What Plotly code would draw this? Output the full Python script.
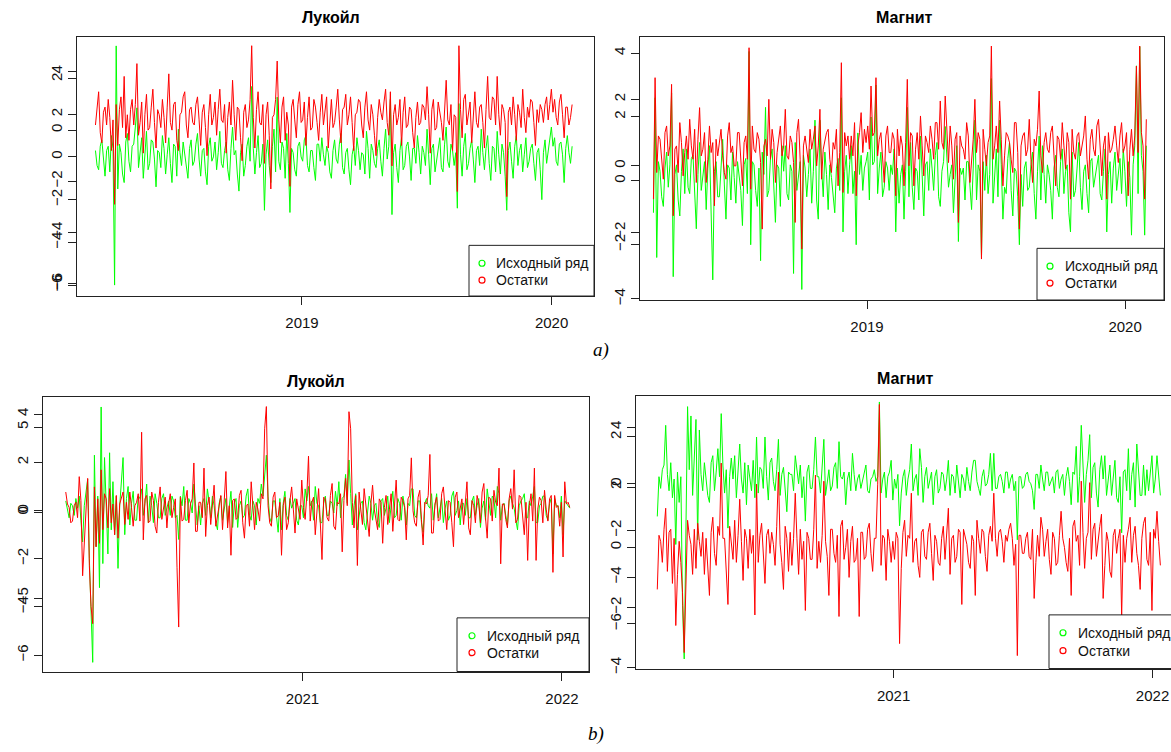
import pandas as pd
import plotly.graph_objects as go

# ---------------- data ----------------
A_START, A_END = "2018-03-05", "2020-01-31"
B_START, B_END = "2020-02-03", "2022-01-12"

titles = ["Лукойл", "Магнит", "Лукойл", "Магнит"]
legend_labels = ["Исходный ряд", "Остатки"]
a_tickvals = ["2019-01-01", "2020-01-01"]
a_ticktext = ["2019", "2020"]
b_tickvals = ["2021-01-01", "2022-01-01"]
b_ticktext = ["2021", "2022"]

# Лукойл, 2018-2020 : original series (green) and residuals (red)
luk_a_orig = [
    0.3, -0.4, -0.6, 0.5, 0.8, -0.2, -0.9, 0.3, 0.5, -0.7, 1.0, 0.4, -6.0, 5.2, -1.5, 0.6, 0.2, -0.8, -1.2, 0.7,
    1.1, -0.2, -0.7, 0.5, 0.6, 1.4, 2.3, -0.5, 0.4, 0.9, -1.0, 0.2, 1.2, -0.6, -0.3, 0.8, 0.7, -0.1, -1.4, 0.3,
    0.2, -0.5, 1.0, 0.4, -0.8, 0.1, 0.9, -0.3, -1.2, 0.6, 0.5, -0.9, 1.3, 0.2, -0.4, 0.7, 0.1, -0.6, -1.0, 0.4,
    0.8, -0.4, -0.2, 0.6, 1.1, -0.1, -0.9, 0.3, 0.4, -0.7, -1.3, 0.5, 0.9, -0.2, 0.0, 0.7, -0.6, 0.2, 1.2, -0.3,
    -0.5, 0.3, 0.7, -0.6, -1.1, 0.4, 1.4, 0.1, 0.3, -0.8, -1.6, 0.2, 0.6, -0.9, -0.4, 0.5, 0.9, -0.2, 3.3, 0.4,
    -0.8, 0.2, 1.0, -0.5, -0.3, 0.6, -2.5, 0.1, 0.8, -0.4, -1.2, 0.5, 1.3, -0.7, 2.8, -0.2, -0.6, 0.7, 0.4, -1.0,
    1.1, -0.3, -2.6, 0.4, 0.2, -0.6, -0.9, 0.5, 0.7, 0.0, -0.2, 0.8, 1.0, -0.4, -0.7, 0.3, 0.3, -0.5, -1.1, 0.6,
    0.6, -0.2, 0.9, 0.1, -0.4, 0.5, 0.2, -0.7, -1.0, 0.3, 0.8, -0.1, -0.3, 0.6, 1.1, -0.5, -0.8, 0.2, 0.4, -0.6,
    -1.3, 0.1, 0.5, -0.4, 0.9, 0.3, -0.6, 0.2, 0.1, -0.8, 1.2, 0.4, -1.0, 0.6, 0.3, -0.3, -0.5, 0.4, 0.8, -0.2,
    -0.9, 0.4, 1.3, -0.1, 0.5, 2.7, -2.7, 0.2, 0.6, -0.5, -1.2, 0.3, 0.9, -0.6, -0.4, 0.5, 0.7, 0.0, -1.1, 0.4,
    0.4, -0.3, 1.0, 0.2, -0.8, 0.5, 0.2, -0.4, 1.3, 0.1, -1.3, 0.4, 0.6, -0.7, -0.2, 0.3, 0.9, -0.5, -0.7, 0.6,
    1.4, -0.2, -0.5, 0.6, 0.3, -0.4, 0.2, -2.4, 2.5, 0.1, -0.9, 0.5, 1.1, -0.6, -0.3, 0.4, 0.8, -0.1, -1.2, 0.3,
    0.5, -0.4, 1.3, 0.2, -0.6, 0.4, 1.0, -0.3, -1.1, 0.5, 0.4, -0.7, 1.2, 0.1, -0.8, 0.6, 0.2, -0.9, -2.5, 0.3,
    0.7, -0.2, -1.0, 0.5, 1.0, -0.4, 0.3, 0.6, -0.7, 0.1, 0.9, -0.5, -0.2, 0.4, 0.6, -0.3, -1.1, 0.2, 0.4, -0.6,
    -2.0, 0.2, 0.8, -0.3, 0.3, 0.7, 1.4, 0.5, 0.9, -0.2, -0.4, 0.6, 0.7, 0.1, -1.2, 0.4, 1.0, 0.2, -0.3, 0.5,
]
luk_a_resid = [
    0.2, 0.9, 1.5, -0.1, -0.5, 0.7, 0.9, 0.2, 1.2, 0.5, -0.8, 0.4, -2.9, 1.0, -0.6, 0.8, 1.3, 0.1, 2.1, -0.3,
    0.6, -0.4, 0.8, 1.2, 0.2, 1.0, 2.6, -0.2, 0.3, 1.1, -0.9, 0.6, 1.4, 0.0, 0.1, 0.9, 1.6, 0.3, -0.7, 0.8,
    0.6, 0.1, 1.2, 0.5, -0.5, 0.9, 2.2, 0.3, 0.0, 1.0, 1.1, -0.4, -0.8, 0.6, 0.7, 1.3, 1.5, 0.2, -0.3, 0.8,
    0.9, 0.3, 0.2, 1.0, 1.3, 0.4, -0.6, 0.7, 1.0, 0.1, -1.0, 0.6, 1.4, 0.2, 0.5, 1.1, -0.2, 0.8, 1.6, 0.4,
    0.3, 1.0, -0.9, 0.5, 1.1, 0.2, 1.95, 0.6, -0.4, 0.9, 0.8, -0.3, -1.2, 0.7, 1.0, 0.1, 0.4, 1.2, 3.3, 0.5,
    -0.7, 0.8, 1.5, 0.3, 0.2, 1.0, -1.3, 0.6, 1.1, -0.2, -2.3, 0.5, 0.6, 1.2, 2.7, 0.4, -0.5, 0.9, 1.3, -0.4,
    0.7, 0.2, -2.2, 0.9, 1.2, 0.4, -0.3, 1.0, 1.5, 0.3, 0.4, 1.1, -0.6, 0.5, 1.3, 0.0, 0.1, 1.2, 0.9, 0.3,
    -0.4, 0.7, 1.4, 0.2, 0.8, 1.3, -0.7, 0.5, 1.2, 0.1, 0.3, 0.9, 1.6, 0.4, -0.5, 0.8, 0.9, 1.4, 0.2, 0.6,
    1.3, 0.3, -0.8, 0.6, 0.7, 1.2, 1.1, 0.2, -0.3, 0.9, 1.5, 0.4, 0.0, 1.0, 0.6, -0.2, -1.0, 0.5, 1.2, 0.7,
    0.4, 1.1, 1.6, 0.3, -0.2, 1.5, -1.4, 0.6, 1.0, 0.2, 0.5, 1.2, -0.6, 0.7, 1.3, 0.1, 0.2, 0.9, 0.8, -0.1,
    -0.7, 0.5, 1.1, 0.2, 0.3, 1.0, 0.9, 0.4, 1.7, 0.6, -0.9, 0.8, 1.2, 0.0, 0.1, 1.1, 0.7, 0.3, -0.4, 0.9,
    1.95, 0.4, 0.2, 1.0, -0.8, 0.6, 0.5, -2.4, 3.3, 0.8, -0.3, 1.2, 1.4, 0.2, 0.6, 1.1, -0.5, 0.7, 1.5, 0.3,
    0.1, 0.9, 1.0, 0.3, -0.7, 0.8, 2.1, 0.5, 0.4, 1.3, 1.2, 0.2, 2.1, 0.6, -0.2, 1.0, 0.8, 0.3, -2.6, 0.7,
    0.9, 0.2, 1.3, 0.6, -0.4, 1.0, 0.7, 0.1, 1.6, 0.5, -0.1, 0.9, 0.5, 1.2, 1.1, 0.3, -0.6, 0.8, 0.3, 1.0,
    0.8, 0.3, 1.0, 1.3, 0.4, 1.0, 1.6, 0.7, 1.2, 0.5, 0.2, 1.1, 1.4, 0.6, -0.3, 0.9, 0.9, 0.2, 0.5, 1.0,
]

# Магнит, 2018-2020
mag_a_orig = [
    -1.0, 2.6, -2.4, 0.6, 0.3, -0.5, -0.8, 0.4, 0.9, -0.2, 0.5, 2.75, -3.0, 0.2, 0.5, -0.6, -1.1, 0.3, 1.0, -0.4,
    1.0, -0.2, -0.4, 0.7, 0.8, -0.6, -1.5, 0.2, 1.2, -0.3, 0.1, 0.6, -0.9, 0.4, 1.1, -0.7, -3.1, 0.3, 0.6, -0.5,
    -0.5, 0.4, 1.3, -0.1, -1.2, 0.5, 0.4, -0.6, 0.9, 0.1, -0.7, 0.6, 0.2, -0.3, -1.4, 0.5, 0.7, -0.4, 4.05, -2.0,
    0.6, 0.5, -0.3, -0.8, 0.4, -2.5, 0.9, 0.2, 2.3, -0.5, -0.3, 0.7, 1.0, -0.2, -1.3, 0.5, 0.4, -0.8, 1.1, 0.3,
    1.1, -0.4, -0.6, 0.5, 0.3, -2.9, 1.2, -0.3, 0.2, 0.6, -3.4, 0.8, 0.4, -0.5, 0.2, 1.0, -0.7, 0.3, 1.9, -0.6,
    -1.2, 1.9, 0.4, -0.5, 0.9, 0.2, -0.9, 0.5, 0.1, -0.6, -1.0, 0.4, 0.7, -0.3, 2.6, -1.6, 0.3, 0.8, -0.4, 0.5,
    1.1, -0.4, 0.3, -2.0, 1.5, 0.2, 0.8, -0.3, 0.4, 0.6, 0.9, -0.6, 2.0, 0.5, 0.6, 3.0, -0.4, 0.4, 0.9, -0.5,
    -0.2, 0.6, 0.4, -0.3, 0.5, 0.2, 1.0, -1.6, 0.4, -0.7, 0.2, 0.5, -1.2, 0.3, 2.3, -0.5, 1.2, -0.2, -0.9, 0.4,
    0.3, -0.6, 1.4, 0.2, -1.1, 0.5, 0.6, -0.3, 1.0, 0.4, -0.3, 0.8, 1.2, -0.5, -0.8, 0.3, 0.6, 1.7, 0.7, -0.2,
    0.2, 0.5, -1.0, 0.3, 1.1, -1.9, 0.4, 0.2, 0.4, -0.6, 0.6, 0.6, -0.3, -0.9, 0.4, 1.9, -0.6, 0.5, 0.3, -2.4,
    0.6, -0.3, 0.8, -0.4, 0.2, 3.2, -0.7, 0.2, 1.0, -0.5, 1.9, 0.5, -1.2, -0.2, -0.4, 0.7, 1.2, -0.3, -1.1, 0.4,
    0.3, -0.5, -2.0, 0.2, -0.8, 0.4, 0.6, -0.3, -0.2, 0.5, 0.9, -0.4, -1.2, 0.3, 1.4, -0.6, 1.1, 0.2, -0.7, 0.5,
    0.2, -0.3, -1.2, 0.4, 0.8, -0.2, -0.5, 0.6, 1.0, -0.4, 0.3, 0.5, -1.0, -1.6, 0.9, -0.5, -0.3, 0.4, 1.2, -0.2,
    -0.9, 0.3, 0.5, -0.4, -1.0, 0.6, 0.7, -0.2, 0.1, 0.5, 0.8, -0.4, -0.6, 0.3, 1.0, -1.6, 0.2, 0.6, -0.7, 0.4,
    0.9, -0.3, 0.2, 0.7, -0.4, 1.0, 0.3, -0.8, 0.6, 0.1, -1.7, 0.5, 1.1, 3.6, -0.4, 4.2, 0.8, 0.3, -1.7, 1.1,
]
mag_a_resid = [
    -1.0, 2.65, -0.2, 0.9, 0.8, 0.1, -0.4, 1.0, 1.2, 0.3, 0.6, 2.45, -1.5, 0.5, 0.6, -0.2, 1.3, 0.7, -0.3, 0.4,
    0.9, 0.2, 1.4, 0.6, 0.2, 1.1, -0.5, 0.8, 1.75, 0.3, 0.5, 1.0, -0.5, 0.2, 1.2, 0.4, 0.7, -1.2, 0.8, 0.3,
    0.7, 1.1, 0.3, -0.2, -0.4, 0.9, 1.3, 0.4, 0.6, 0.0, 0.0, 1.0, 1.0, 0.3, -0.6, 0.7, 0.9, 0.2, 3.55, -0.7,
    1.2, 0.5, 0.4, 1.0, 0.8, 0.1, -1.9, 0.6, 0.8, 0.3, 2.0, 0.2, 1.1, 0.7, -0.5, 0.4, 0.9, 1.2, 0.3, 0.6,
    1.7, 0.3, 0.2, 0.9, 0.7, 0.1, -1.7, 1.0, 1.4, 0.2, -2.5, 0.6, 0.9, 0.4, 0.1, 1.1, 0.5, 0.8, 1.2, 0.0,
    0.6, 1.7, -0.4, 0.5, 0.8, 1.0, 1.1, 0.2, -0.2, 0.7, 0.5, 1.1, -0.6, 0.4, 3.1, -0.8, 1.0, 0.6, 0.9, 0.2,
    0.9, 0.3, 1.3, -0.9, 0.6, 1.0, 1.6, 0.4, 1.1, 0.7, 1.2, 0.5, 2.4, 0.9, 1.0, 2.65, 0.3, 0.8, 1.0, 0.2,
    -0.5, 0.9, 1.2, 0.4, 0.4, 1.0, 0.8, -0.9, 1.1, 0.3, 0.9, 0.6, -0.6, 0.7, 2.6, 0.0, 1.0, 0.9, -0.6, 0.5,
    1.0, 0.2, 1.5, 0.6, -0.3, 0.9, 0.7, 0.4, 1.2, 0.8, 0.2, 1.3, 1.3, 0.5, 1.95, 0.7, 0.5, 2.1, 0.9, 0.1,
    1.2, 0.6, -0.4, 0.8, 1.0, -1.7, 0.9, 0.6, 0.5, 0.2, 1.3, 0.9, -0.5, 0.3, 0.8, 2.0, 0.4, 1.0, 0.8, -2.8,
    1.1, 0.5, 0.0, 0.7, 0.9, 3.6, 0.2, 0.6, 1.2, 0.4, 1.95, 0.8, -0.6, 0.3, 1.0, 0.9, 0.7, 0.2, -0.2, 1.3,
    1.3, 0.4, -1.9, 0.6, 0.9, 1.0, 0.3, 0.5, 1.4, 0.2, -0.5, 0.8, 0.6, 1.1, 2.25, 0.3, -0.2, 0.7, 1.0, 0.5,
    0.4, 1.0, 1.2, 0.3, -0.6, 0.9, 0.8, 0.2, 1.3, 0.6, -0.1, 1.0, 0.7, -1.0, 1.1, 0.4, 0.2, 0.9, 1.0, 0.3,
    0.6, 0.9, 1.5, 0.2, -0.4, 0.8, 1.1, 0.5, 0.3, 1.2, 1.4, 0.4, -0.3, 0.6, 0.9, -1.0, 1.0, 0.4, 0.5, 0.8,
    1.2, 0.6, 0.1, 0.9, 1.3, 0.4, 0.6, 1.0, -0.9, 0.5, 1.1, 0.3, 0.9, 3.0, 0.4, 3.6, 1.0, 0.6, -1.0, 1.4,
]

# Лукойл, 2020-2022
luk_b_orig = [
    0.4, 0.1, -0.3, 0.3, 0.2, -0.2, 0.5, 0.1, 0.6, -0.4, -1.3, 0.2, 0.8, 1.3, -2.0, -4.0, -6.3, 2.3, -1.5, 0.6,
    -3.2, 4.3, -2.2, 2.2, 0.3, -1.8, 2.4, -0.8, 1.2, -1.0, 0.6, -2.4, 0.2, 1.4, 2.2, -1.0, 0.5, 1.0, -0.6, 0.3,
    0.8, -0.4, -0.4, 0.6, 0.5, 0.9, -0.2, 0.3, 1.1, -0.5, 0.6, 0.2, -0.5, 0.7, 0.3, -0.3, -0.3, 0.5, 0.7, -0.2,
    0.1, 0.4, -0.2, 0.6, 0.4, -0.3, -0.2, -1.2, 0.6, 0.2, 1.0, -0.4, -0.4, 0.5, 0.3, -0.1, 1.1, 0.4, -0.6, 0.2,
    -0.6, 0.3, 0.5, -0.2, 0.9, 0.4, -0.3, 0.6, 0.2, -0.5, -0.8, 0.3, 0.6, -0.4, 0.1, 0.5, -0.5, 0.2, 0.8, -0.7,
    0.3, 0.5, -0.7, 0.2, 0.4, -0.3, -0.2, 0.6, 0.9, -0.2, -0.4, 0.4, 0.2, -0.6, 0.5, 0.3, 1.1, 0.6, 1.4, 2.3,
    0.6, -0.3, -0.5, 0.4, 0.4, -0.2, -0.9, 0.5, -0.8, 0.3, 0.8, -0.2, -0.4, 0.5, 0.1, 0.3, 0.5, -0.4, -0.6, 0.2,
    0.2, -0.3, 0.9, 0.4, 1.0, 0.2, 0.4, -0.4, 1.0, 0.3, 0.2, -0.5, -0.5, 0.3, 0.6, -0.2, -0.2, 0.4, 0.3, -0.1,
    0.8, 0.2, 1.2, -0.3, 0.5, 0.6, 1.5, 0.3, 2.1, 0.7, -0.6, 0.2, 0.7, -0.8, -0.3, 0.3, 0.4, -0.5, -0.8, 0.1,
    0.6, 0.3, -0.4, 0.2, 0.3, -0.5, -0.7, 0.4, 0.5, -0.2, 0.1, 0.6, -0.5, 0.2, 0.8, -0.3, -0.2, 0.5, 0.3, -0.4,
    0.6, 0.2, -0.6, 0.3, 0.2, 0.9, 0.9, -0.2, -0.3, 0.4, 0.4, -0.5, -0.9, 0.3, 0.5, 0.2, 0.1, 0.7, -0.4, 0.2,
    0.7, -0.3, 0.2, 0.5, -0.5, 0.1, 0.4, -0.4, -0.2, 0.6, 0.8, -0.2, 0.0, 0.4, -0.6, 0.3, 0.3, -0.2, 0.5, -0.3,
    -0.3, 0.4, 0.6, -0.2, 0.2, 0.5, -0.7, 0.1, 0.4, -0.4, 0.9, 0.3, -0.2, 0.6, 0.5, -0.3, 1.0, 0.7, -0.4, 0.2,
    0.3, -0.2, -0.6, 0.4, 0.6, 0.3, 0.1, -0.4, -0.8, 0.2, 0.4, 0.5, 0.7, -0.3, -0.3, 0.4, 0.2, 0.6, 1.0, -0.5,
    -0.5, 0.2, 0.3, 0.6, 0.6, -0.2, -0.4, 0.3, 0.5, -1.8, 0.5, 0.2, 0.2, -0.3, 0.6, -1.0, 0.4, 0.3, 0.2, 0.1,
]
luk_b_resid = [
    1.2, 0.5, 0.3, -0.6, -0.5, 0.4, 0.6, -0.3, 2.1, 0.7, -3.7, -1.5, 0.4, 2.0, -3.1, -5.5, -6.5, 1.5, -2.0, 0.8,
    -1.8, 2.5, -1.0, 1.1, 0.8, -0.9, 1.4, -0.6, 0.5, -1.3, 1.0, -1.5, 0.5, 0.9, 1.2, -0.7, 0.6, -0.4, 1.2, 0.3,
    -0.8, 0.4, 0.6, 1.1, -0.5, 4.7, -1.6, 0.8, 1.0, -0.6, -0.5, 1.2, 0.7, -0.8, -1.2, 0.6, 1.5, -0.4, 0.2, 0.9,
    -0.9, 0.5, 1.1, -0.3, 0.3, 0.8, -3.2, -6.7, 0.9, -0.5, -0.4, 0.7, 1.3, -0.6, 0.5, 0.8, 2.9, -1.1, -1.1, 0.6,
    0.6, -0.3, 2.6, -1.4, 0.4, 0.9, -0.7, 0.3, 1.6, -0.8, -0.2, 0.6, 1.0, -1.0, 0.5, 2.4, -0.9, 0.4, -2.5, 0.7,
    0.8, -0.4, -0.3, 1.0, 1.3, -0.6, -1.5, 0.4, 0.5, -0.8, 1.8, 0.3, -1.0, 0.6, 0.2, -0.5, 1.1, 0.8, 4.9, 6.2,
    0.4, -0.6, -0.8, 0.9, 1.2, -0.3, -0.2, 0.6, -2.5, 0.4, 0.9, -1.0, -0.6, 0.7, 1.5, 0.2, -1.2, 0.8, 0.3, -0.4,
    1.9, 0.3, -0.4, 1.0, 3.3, -0.5, 0.6, 0.9, -1.3, 0.2, 1.4, -0.6, -2.75, 0.9, 0.8, -0.3, -0.5, 1.0, 1.7, -0.8,
    -1.0, 0.6, 0.5, 1.1, -2.3, 0.7, 2.0, 0.4, 5.9, 4.9, 0.6, -0.9, 1.0, -3.1, 1.2, 0.2, -0.7, 1.4, 0.4, -0.6,
    -1.4, 0.5, 1.6, 0.2, -0.3, -1.0, 0.8, 0.6, -1.8, 0.3, 1.0, -0.7, 0.2, 1.1, -1.1, 0.5, 1.9, -0.4, -0.5, 0.9,
    0.7, 0.3, -1.6, 0.8, 1.0, 3.2, 0.1, -0.6, -0.8, 0.9, 1.3, -0.4, -1.9, 0.6, 0.5, 1.0, 3.4, -1.2, -1.2, 0.5,
    0.9, -0.5, -0.4, 1.1, 1.5, 0.2, -1.0, 0.7, 0.6, -0.6, -2.0, 0.9, 1.2, -0.3, 0.3, 0.8, -0.7, 0.4, 1.8, -0.9,
    -1.3, 0.7, 0.4, -0.6, 1.0, 0.5, -0.6, 1.2, 1.7, -0.3, -1.5, 0.9, 0.8, -0.5, 1.3, 0.6, 0.4, 2.6, -3.0, 0.5,
    0.5, -0.4, -0.9, 0.8, 1.4, 0.2, 2.5, -0.6, -0.4, 1.0, 0.9, -0.2, -1.3, 0.6, -2.8, 0.4, 1.1, -0.5, 2.6, -2.8,
    0.2, 0.9, 0.7, -0.6, 1.3, 0.2, -0.5, 0.8, 1.0, -3.5, 1.0, 0.3, 0.4, -0.8, 0.6, -2.6, 1.8, 0.5, 0.6, 0.3,
]

# Магнит, 2020-2022
mag_b_orig = [
    -1.4, 0.3, -0.2, 0.6, 0.8, 2.5, 0.4, -0.3, 0.9, -0.6, 0.2, -2.6, 0.5, -0.8, 0.3, -5.2, -7.5, -2.0, 3.3, 0.6,
    2.9, -0.5, 1.2, 2.75, -2.4, 2.3, 0.4, -0.3, 0.9, 0.2, -0.5, -0.8, 0.9, 1.2, -0.3, 0.5, 1.5, 0.3, 3.0, 0.8,
    -0.4, 0.6, -1.9, 0.3, 1.1, 0.2, 1.2, -0.6, 0.5, 1.7, 0.2, -0.4, 0.9, -0.9, 0.8, 0.3, -0.3, 1.0, -0.6, 2.0,
    -0.4, 0.7, 0.6, -0.2, 2.0, 0.3, -0.7, 0.9, 1.1, 0.1, -0.3, 0.6, 1.9, -0.5, 0.4, 0.7, -0.2, -1.2, 0.5, 0.4,
    0.4, -0.3, 1.2, 0.6, 0.0, 0.8, -0.6, 0.3, -1.6, 0.5, 0.8, -0.2, -0.2, 0.6, 2.0, 0.3, 0.3, -0.4, 0.6, 1.9,
    -0.5, 0.2, 0.6, -0.3, -0.1, 0.7, 0.9, -0.2, 1.8, 0.3, 0.2, 0.5, -0.9, 0.2, 0.5, -0.3, 1.3, 0.4, -0.3, 0.2,
    0.4, -0.2, 0.1, 0.5, 0.8, -0.3, -0.4, 0.2, 0.3, 0.6, 0.1, 0.3, 3.5, -0.4, 0.2, 0.5, -0.6, 0.3, 0.5, 1.0,
    -0.7, 0.2, -0.2, 0.4, -1.8, -0.4, 0.3, 0.6, -0.5, 0.2, 0.6, 1.7, -0.3, 0.2, 0.4, -0.5, 1.5, 0.7, -0.8, 0.3,
    0.7, -0.2, 0.1, 0.5, -0.9, 0.3, 0.6, -0.4, -0.2, 0.5, 0.4, -0.3, 0.2, 1.0, -0.5, 0.4, 0.3, -0.4, 0.8, 0.2,
    -0.6, 0.4, 0.2, -0.3, 0.7, 0.1, -0.3, 0.5, 1.0, 1.0, 0.1, -0.2, -0.5, 0.3, 0.6, -0.1, 0.0, 0.4, 1.3, -0.3,
    1.3, -0.2, -0.2, 0.3, 0.4, 0.1, -0.4, 0.5, 0.5, -0.2, 0.2, 0.4, -0.3, 0.1, -2.4, 0.3, 0.3, -0.2, -0.1, 0.4,
    0.5, 0.1, 0.0, -0.3, -1.1, 0.4, 0.4, -0.2, 0.8, 0.2, -0.3, 0.5, 0.5, -0.1, 0.1, 0.3, -0.4, 0.5, 0.6, -0.2,
    0.2, 0.4, -0.5, 0.3, 0.7, 0.1, -0.9, 0.5, 0.4, 1.6, -0.8, 0.3, 2.5, 0.8, -0.8, 0.4, 1.0, 2.1, -0.6, 0.7,
    0.9, -0.4, -1.0, 0.6, 1.2, 0.2, 1.2, -0.5, 0.3, 0.8, -0.5, 0.4, 1.0, -0.6, -0.8, 0.3, -2.1, 0.5, 0.6, -0.3,
    1.5, -0.7, 0.4, 0.9, -1.0, 1.7, 0.4, -0.5, -0.5, 0.8, -0.5, 0.6, -0.3, 0.5, 1.2, -0.4, 0.2, 1.2, 0.4, -0.5,
]
mag_b_resid = [
    -1.4, 0.4, 0.2, -0.5, 0.6, 1.3, -0.8, 0.5, 0.6, -1.2, 0.3, -2.6, -0.9, 0.2, -0.5, -1.5, -3.5, -1.0, 0.9, 0.4,
    0.1, -0.9, 0.6, -0.7, 0.8, 0.2, -0.3, 0.5, -0.9, 0.3, -0.6, -1.6, 0.5, 1.0, -0.2, -0.6, 0.7, 0.4, 2.8, 0.3,
    0.3, -0.8, -1.9, 0.7, 0.2, -0.4, 0.9, -0.5, 0.4, 1.6, 0.2, -1.1, 0.6, 0.3, -0.7, 0.6, -0.2, 0.4, -2.25, 2.1,
    -0.5, 0.4, 0.8, -0.3, -1.2, 0.4, 0.6, -0.2, 0.5, 0.1, -0.6, 0.7, 2.5, 0.1, -0.5, -1.4, 0.7, 0.3, -0.8, 0.5,
    -0.6, 0.3, 1.8, 0.3, -0.9, 0.6, -0.4, 0.2, -2.1, 0.5, 0.3, -0.4, -0.4, 0.6, 2.4, -0.7, 0.2, -0.5, 0.4, 2.2,
    0.2, -0.3, -1.6, 0.6, 0.6, -0.2, -0.5, 0.4, -2.3, 0.7, 0.9, -0.4, 0.0, 0.6, -1.0, 0.2, 0.7, -0.5, -0.4, 0.3,
    -2.3, 0.5, 0.5, -0.4, -0.3, 0.6, 0.8, -0.2, -0.8, 0.3, 0.3, 2.1, 4.75, -0.6, 0.4, 0.3, -1.1, 0.6, 0.2, -0.5,
    0.2, -0.4, 0.5, 0.3, -3.2, -0.7, 0.5, 0.9, -0.3, 0.4, 0.3, 1.8, -0.5, 0.2, 0.3, -0.6, -1.0, 0.5, 0.6, -0.3,
    -0.4, 0.5, 0.8, -0.2, -1.1, 0.4, 0.2, -0.5, -0.6, 0.3, 0.7, -0.4, 0.4, 1.3, -0.9, 0.3, 0.4, -0.5, -0.3, 0.6,
    0.5, -1.9, 0.6, 0.3, 0.1, -0.5, -0.7, 0.4, 0.2, -1.6, 0.9, 0.3, -0.2, 0.6, 0.5, -0.3, -0.8, 0.4, 0.7, 0.2,
    1.8, 0.3, -0.3, 0.5, 0.6, 0.2, -0.5, 0.4, 0.2, 0.6, 0.8, 0.3, -0.6, 0.1, -3.6, 0.4, 0.4, -0.2, -0.2, 0.3,
    0.5, -0.3, -0.4, 0.6, -1.7, -0.5, 0.4, -0.3, 1.0, 0.6, -0.3, 0.2, 0.6, -0.4, -0.9, 0.5, 0.3, -0.6, -0.5, 0.4,
    1.2, 0.3, 0.0, -0.5, -0.8, 0.3, -1.6, 0.7, 0.9, 0.2, 0.4, -0.6, 2.2, 0.5, -0.7, 0.3, 0.5, 2.15, -0.4, 0.6,
    0.8, -0.3, 0.3, 0.7, 1.1, -1.7, -0.6, 0.5, 0.2, -0.8, -1.0, 0.4, 0.6, -0.2, 0.3, 0.6, -2.3, 0.4, -0.5, 0.3,
    0.6, 1.0, -0.5, 0.4, 0.7, -0.2, -0.6, -1.4, 0.3, 0.8, 1.0, -0.4, -0.6, 0.5, -2.1, 0.6, 0.3, 1.2, 0.2, -0.6,
]

# y-axis tick values of the two overlaid axes in each panel
ticks_luk_a_orig = [-6, -4, -2, 0, 2, 4]
ticks_luk_a_resid = [-6, -4, -2, 0, 2]
ticks_mag_a_orig = [-2, 0, 2, 4]
ticks_mag_a_resid = [-4, -2, 0, 2]
ticks_luk_b_orig = [-6, -4, -2, 0, 2, 4]
ticks_luk_b_resid = [-5, 0, 5]
ticks_mag_b_orig = [-6, -4, -2, 0, 2]
ticks_mag_b_resid = [-4, -2, 0, 2, 4]

# ---------------- layout helpers ----------------
W, H = 1171, 752
FONT = "Liberation Sans, Arial, sans-serif"
GREEN, RED = "#00FF00", "#FF0000"
AXC = "#222222"


def px(x):
    return x / W


def py(y):
    return 1 - y / H


panels = [
    dict(orig=luk_a_orig, resid=luk_a_resid, start=A_START, end=A_END,
         box=(77, 37, 594, 298), xr=["2018-02-06", "2020-03-03"],
         yr_o=[-6.512, 5.628], yr_r=[-6.485, 3.65],
         tv_o=ticks_luk_a_orig, tv_r=ticks_luk_a_resid,
         xtv=a_tickvals, xtt=a_ticktext, right=True, title=(331, 18),
         leg=(469, 247, 594, 298), sym_x=482, txt_x=494, rows=(265, 282)),
    dict(orig=mag_a_orig, resid=mag_a_resid, start=A_START, end=A_END,
         box=(640, 37, 1164, 302), xr=["2018-02-14", "2020-02-25"],
         yr_o=[-3.73, 4.51], yr_r=[-4.03, 3.88],
         tv_o=ticks_mag_a_orig, tv_r=ticks_mag_a_resid,
         xtv=a_tickvals, xtt=a_ticktext, right=True, title=(904, 18),
         leg=(1037, 250, 1164, 302), sym_x=1050, txt_x=1063, rows=(268, 285)),
    dict(orig=luk_b_orig, resid=luk_b_resid, start=B_START, end=B_END,
         box=(43, 400, 589, 676), xr=["2020-01-02", "2022-02-08"],
         yr_o=[-6.68, 4.70], yr_r=[-9.30, 6.74],
         tv_o=ticks_luk_b_orig, tv_r=ticks_luk_b_resid,
         xtv=b_tickvals, xtt=b_ticktext, right=True, title=(316, 384),
         leg=(457, 622, 589, 676), sym_x=472, txt_x=485, rows=(640, 657)),
    dict(orig=mag_b_orig, resid=mag_b_resid, start=B_START, end=B_END,
         box=(636, 399, 1171, 673), xr=["2020-01-04", "2022-01-27"],
         yr_o=[-7.91, 3.74], yr_r=[-4.03, 5.02],
         tv_o=ticks_mag_b_orig, tv_r=ticks_mag_b_resid,
         xtv=b_tickvals, xtt=b_ticktext, right=False, title=(905, 381),
         leg=(1049, 619, 1200, 673), sym_x=1063, txt_x=1076, rows=(637, 655)),
]

fig = go.Figure()
layout = dict(
    width=W, height=H, margin=dict(l=0, r=0, t=0, b=0),
    paper_bgcolor="white", plot_bgcolor="white", showlegend=False,
    font=dict(family=FONT, size=14, color=AXC),
)
shapes, annotations = [], []

for i, p in enumerate(panels):
    xid = "x" if i == 0 else f"x{i + 1}"
    xname = "xaxis" if i == 0 else f"xaxis{i + 1}"
    n_o, n_r = 2 * i + 1, 2 * i + 2
    yid_o = "y" if n_o == 1 else f"y{n_o}"
    yname_o = "yaxis" if n_o == 1 else f"yaxis{n_o}"
    yid_r, yname_r = f"y{n_r}", f"yaxis{n_r}"

    dates_o = pd.date_range(p["start"], p["end"], periods=len(p["orig"]))
    dates_r = pd.date_range(p["start"], p["end"], periods=len(p["resid"]))
    fig.add_trace(go.Scatter(x=dates_o, y=p["orig"], mode="lines", xaxis=xid, yaxis=yid_o,
                             line=dict(color=GREEN, width=1), name=legend_labels[0]))
    fig.add_trace(go.Scatter(x=dates_r, y=p["resid"], mode="lines", xaxis=xid, yaxis=yid_r,
                             line=dict(color=RED, width=1), name=legend_labels[1]))

    x0, y0, x1, y1 = p["box"]
    layout[xname] = dict(
        domain=[px(x0), px(x1)], anchor=yid_o, type="date", range=p["xr"],
        tickvals=p["xtv"], ticktext=p["xtt"], ticks="outside", ticklen=8,
        tickcolor=AXC, showline=True, linecolor=AXC, linewidth=1, mirror=True,
        showgrid=False, zeroline=False, tickfont=dict(size=15, color="#111"),
        ticklabelstandoff=5, fixedrange=True,
    )
    common_y = dict(
        ticks="outside", ticklen=8, tickcolor=AXC, tickangle=-90, showgrid=False,
        zeroline=False, tickfont=dict(size=15, color="#111"), ticklabelstandoff=0,
        fixedrange=True,
    )
    layout[yname_o] = dict(
        domain=[py(y1), py(y0)], anchor=xid, range=p["yr_o"], tickvals=p["tv_o"],
        showline=True, linecolor=AXC, linewidth=1, mirror=p["right"], **common_y,
    )
    layout[yname_r] = dict(
        overlaying=yid_o, anchor=xid, side="left", range=p["yr_r"], tickvals=p["tv_r"],
        showline=False, **common_y,
    )

    # title
    tx, ty = p["title"]
    annotations.append(dict(xref="paper", yref="paper", x=px(tx), y=py(ty), text=f"<b>{titles[i]}</b>",
                            showarrow=False, xanchor="center", yanchor="middle",
                            font=dict(family=FONT, size=16, color="#000")))
    # legend box
    lx0, ly0, lx1, ly1 = p["leg"]
    shapes.append(dict(type="rect", xref="paper", yref="paper", x0=px(lx0), x1=px(lx1),
                       y0=py(ly1), y1=py(ly0), line=dict(color=AXC, width=1),
                       fillcolor="white", layer="above"))
    for k, (lab, col) in enumerate(zip(legend_labels, [GREEN, RED])):
        ry = p["rows"][k]
        shapes.append(dict(type="circle", xref="paper", yref="paper", xsizemode="pixel",
                           ysizemode="pixel", xanchor=px(p["sym_x"]), yanchor=py(ry),
                           x0=-3, x1=3, y0=-3, y1=3, line=dict(color=col, width=1.2),
                           fillcolor="rgba(0,0,0,0)", layer="above"))
        annotations.append(dict(xref="paper", yref="paper", x=px(p["txt_x"]), y=py(ry), text=lab,
                                showarrow=False, xanchor="left", yanchor="middle",
                                font=dict(family=FONT, size=14, color="#111")))

# panel captions
for txt, cx, cy in [("a)", 601, 352), ("b)", 596, 739)]:
    annotations.append(dict(xref="paper", yref="paper", x=px(cx), y=py(cy), text=f"<i>{txt}</i>",
                            showarrow=False, xanchor="center", yanchor="middle",
                            font=dict(family="Liberation Serif, Times New Roman, serif", size=19,
                                      color="#000")))

layout["shapes"] = shapes
layout["annotations"] = annotations
fig.update_layout(**layout)
fig.write_html("out.html")
